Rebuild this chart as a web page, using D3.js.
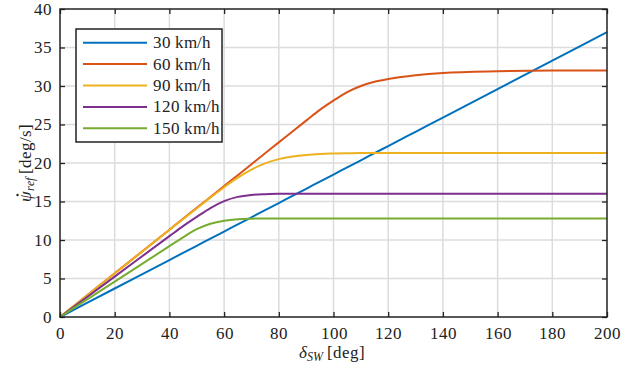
<!DOCTYPE html>
<html>
<head>
<meta charset="utf-8">
<script src="https://cdn.jsdelivr.net/npm/d3@7"></script>
<style>
  @font-face { font-family: "ChartSerif"; src: local("Liberation Serif"), local("LiberationSerif"); font-style: normal; }
  @font-face { font-family: "ChartSerif"; src: local("Liberation Serif Italic"), local("LiberationSerif-Italic"); font-style: italic; }
  body { margin: 0; background: #fff; }
  svg { display: block; }
  #chart text { font-family: "ChartSerif", "Liberation Serif" !important; }
</style>
</head>
<body>
<svg id="chart" width="643" height="369"></svg>
<script>
// steering wheel angle [deg] sample points
const steer = [0, 20, 40, 45, 50, 55, 60, 65, 70, 75, 80, 85, 90, 95, 100, 105, 110, 115, 120, 130, 140, 160, 180, 200];

const speedLabels = ["30 km/h", "60 km/h", "90 km/h", "120 km/h", "150 km/h"];

// yaw rate reference [deg/s], one value per steer point
const yaw30  = [0, 3.7, 7.4, 8.33, 9.25, 10.18, 11.1, 12.03, 12.95, 13.88, 14.8, 15.73, 16.65, 17.58, 18.5, 19.43, 20.35, 21.28, 22.2, 24.05, 25.9, 29.6, 33.3, 37.0];
const yaw60  = [0, 5.67, 11.34, 12.76, 14.18, 15.59, 17.0, 18.42, 19.84, 21.26, 22.68, 24.1, 25.5, 26.9, 28.1, 29.2, 30.0, 30.55, 30.9, 31.4, 31.7, 31.92, 32.0, 32.0];
const yaw90  = [0, 5.65, 11.3, 12.7, 14.1, 15.5, 16.85, 18.1, 19.15, 19.95, 20.5, 20.85, 21.05, 21.17, 21.23, 21.27, 21.3, 21.3, 21.3, 21.3, 21.3, 21.3, 21.3, 21.3];
const yaw120 = [0, 5.25, 10.5, 11.8, 13.0, 14.15, 15.05, 15.6, 15.85, 15.95, 16.0, 16.0, 16.0, 16.0, 16.0, 16.0, 16.0, 16.0, 16.0, 16.0, 16.0, 16.0, 16.0, 16.0];
const yaw150 = [0, 4.6, 9.2, 10.35, 11.4, 12.1, 12.5, 12.7, 12.77, 12.8, 12.8, 12.8, 12.8, 12.8, 12.8, 12.8, 12.8, 12.8, 12.8, 12.8, 12.8, 12.8, 12.8, 12.8];

const xTicks = [0, 20, 40, 60, 80, 100, 120, 140, 160, 180, 200];
const yTicks = [0, 5, 10, 15, 20, 25, 30, 35, 40];

const colors = ["#0072BD", "#D95319", "#EDB120", "#7E2F8E", "#77AC30"];
const seriesValues = [yaw30, yaw60, yaw90, yaw120, yaw150];

const margin = { top: 9, right: 36, bottom: 52, left: 60 };
const W = 643, H = 369;
const width = W - margin.left - margin.right;
const height = H - margin.top - margin.bottom;

const svg = d3.select("#chart");
const g = svg.append("g").attr("transform", `translate(${margin.left},${margin.top})`);

const x = d3.scaleLinear().domain([0, 200]).range([0, width]);
const y = d3.scaleLinear().domain([0, 40]).range([height, 0]);

// grid
g.append("g")
  .selectAll("line")
  .data(xTicks.slice(1, -1))
  .join("line")
  .attr("x1", d => x(d)).attr("x2", d => x(d))
  .attr("y1", 0).attr("y2", height)
  .attr("stroke", "#dcdcdc").attr("stroke-width", 1.5);

g.append("g")
  .selectAll("line")
  .data(yTicks.slice(1, -1))
  .join("line")
  .attr("y1", d => y(d)).attr("y2", d => y(d))
  .attr("x1", 0).attr("x2", width)
  .attr("stroke", "#dcdcdc").attr("stroke-width", 1.5);

// lines
const line = d3.line()
  .x(d => x(d[0]))
  .y(d => y(d[1]))
  .curve(d3.curveMonotoneX);

seriesValues.forEach((vals, i) => {
  g.append("path")
    .datum(steer.map((s, k) => [s, vals[k]]))
    .attr("fill", "none")
    .attr("stroke", colors[i])
    .attr("stroke-width", 2)
    .attr("d", line);
});

// axes (ticks pointing inward, mirrored on top/right)
const tickLen = 5;
const styleAxis = sel => {
  sel.attr("font-family", null).attr("font-size", 17);
  sel.select(".domain").remove();
  sel.selectAll(".tick line").attr("stroke", "#222").attr("stroke-width", 1.3);
  sel.selectAll(".tick text").attr("fill", "#222");
};

g.append("g")
  .attr("transform", `translate(0,${height})`)
  .call(d3.axisBottom(x).tickValues(xTicks).tickSize(-tickLen).tickPadding(10))
  .call(styleAxis);

g.append("g")
  .call(d3.axisTop(x).tickValues(xTicks).tickSize(-tickLen).tickFormat(""))
  .call(styleAxis);

g.append("g")
  .call(d3.axisLeft(y).tickValues(yTicks).tickSize(-tickLen).tickPadding(8))
  .call(styleAxis);

g.append("g")
  .attr("transform", `translate(${width},0)`)
  .call(d3.axisRight(y).tickValues(yTicks).tickSize(-tickLen).tickFormat(""))
  .call(styleAxis);

// box
g.append("rect")
  .attr("width", width).attr("height", height)
  .attr("fill", "none").attr("stroke", "#222").attr("stroke-width", 1.5);

// axis labels
const xl = svg.append("text")
  .attr("x", 332).attr("y", 358)
  .attr("text-anchor", "middle")
  .attr("font-size", 17)
  .attr("fill", "#222");
xl.append("tspan").attr("font-style", "italic").text("δ");
xl.append("tspan").attr("font-style", "italic").attr("font-size", 12).attr("dy", 3).text("SW");
xl.append("tspan").attr("dy", -3).text(" [deg]");

const yl = svg.append("g")
  .attr("transform", `translate(31,${margin.top + height / 2}) rotate(-90)`);
const ylt = yl.append("text")
  .attr("text-anchor", "middle")
  .attr("font-size", 17)
  .attr("fill", "#222");
ylt.append("tspan").attr("font-style", "italic").text("ψ");
ylt.append("tspan").attr("font-style", "italic").attr("font-size", 12).attr("dy", 3).text("ref");
ylt.append("tspan").attr("dy", -3).text(" [deg/s]");

// dot over psi (time derivative)
const psiBox = ylt.node().getExtentOfChar ? ylt.node().getExtentOfChar(0) : null;
if (psiBox) {
  yl.append("circle")
    .attr("cx", psiBox.x + psiBox.width / 2 + 1.5)
    .attr("cy", psiBox.y + 1.5)
    .attr("r", 1.2)
    .attr("fill", "#222");
}

// legend
const legend = svg.append("g").attr("transform", "translate(76,29)");
legend.append("rect")
  .attr("width", 146).attr("height", 113)
  .attr("fill", "#fff").attr("stroke", "#222").attr("stroke-width", 1.5);

speedLabels.forEach((lab, i) => {
  const row = legend.append("g").attr("transform", `translate(0,${13.7 + i * 21.4})`);
  row.append("line")
    .attr("x1", 7).attr("x2", 71)
    .attr("stroke", colors[i]).attr("stroke-width", 2);
  row.append("text")
    .attr("x", 77).attr("y", 5.5)
    .attr("font-size", 17)
    .attr("fill", "#222")
    .text(lab);
});
</script>
</body>
</html>
